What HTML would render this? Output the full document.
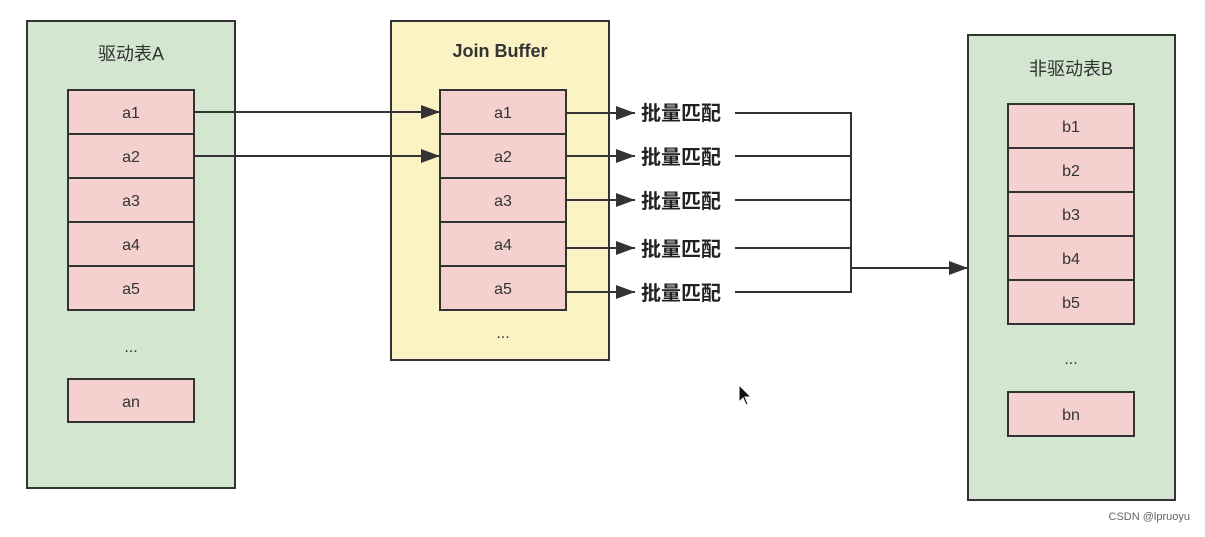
<!DOCTYPE html>
<html><head><meta charset="utf-8"><style>
body{margin:0;background:#fff;width:1205px;height:532px;overflow:hidden;font-family:"Liberation Sans","Noto Sans CJK SC",sans-serif}
</style></head><body>
<svg width="1205" height="532" xmlns="http://www.w3.org/2000/svg" font-family="Liberation Sans, Noto Sans CJK SC, sans-serif">
<defs>
<marker id="a2" markerWidth="20" markerHeight="14" refX="19" refY="7" orient="auto" markerUnits="userSpaceOnUse"><path d="M0,0 L19,7 L0,14 Z" fill="#333"/></marker></defs>
<g stroke="#333" stroke-width="2">
<rect x="27" y="21" width="208" height="467" fill="#d3e6d0"/>
<rect x="391" y="21" width="218" height="339" fill="#fbf3c4"/>
<rect x="968" y="35" width="207" height="465" fill="#d3e6d0"/>
</g>
<g stroke="#333" stroke-width="2" fill="#f4d0cf">
<rect x="68" y="90" width="126" height="44"/><rect x="68" y="134" width="126" height="44"/><rect x="68" y="178" width="126" height="44"/><rect x="68" y="222" width="126" height="44"/><rect x="68" y="266" width="126" height="44"/><rect x="68" y="379" width="126" height="43"/>
<rect x="440" y="90" width="126" height="44"/><rect x="440" y="134" width="126" height="44"/><rect x="440" y="178" width="126" height="44"/><rect x="440" y="222" width="126" height="44"/><rect x="440" y="266" width="126" height="44"/>
<rect x="1008" y="104" width="126" height="44"/><rect x="1008" y="148" width="126" height="44"/><rect x="1008" y="192" width="126" height="44"/><rect x="1008" y="236" width="126" height="44"/><rect x="1008" y="280" width="126" height="44"/><rect x="1008" y="392" width="126" height="44"/>
</g>
<g fill="#333" font-size="16" text-anchor="middle">
<text x="131" y="60" font-size="18">驱动表A</text>
<text x="500" y="57" font-size="18" font-weight="bold">Join Buffer</text>
<text x="1071" y="75" font-size="18">非驱动表B</text>
<text x="131" y="118">a1</text><text x="131" y="162">a2</text><text x="131" y="206">a3</text><text x="131" y="250">a4</text><text x="131" y="294">a5</text><text x="131" y="352">...</text><text x="131" y="407">an</text>
<text x="503" y="118">a1</text><text x="503" y="162">a2</text><text x="503" y="206">a3</text><text x="503" y="250">a4</text><text x="503" y="294">a5</text><text x="503" y="338">...</text>
<text x="1071" y="132">b1</text><text x="1071" y="176">b2</text><text x="1071" y="220">b3</text><text x="1071" y="264">b4</text><text x="1071" y="308">b5</text><text x="1071" y="364">...</text><text x="1071" y="420">bn</text>
</g>
<g fill="#222" font-size="20" font-weight="bold">
<text x="641" y="120">批量匹配</text><text x="641" y="164">批量匹配</text><text x="641" y="208">批量匹配</text><text x="641" y="256">批量匹配</text><text x="641" y="300">批量匹配</text>
</g>
<g stroke="#333" stroke-width="2" fill="none">
<line x1="194" y1="112" x2="440" y2="112" marker-end="url(#a2)"/>
<line x1="194" y1="156" x2="440" y2="156" marker-end="url(#a2)"/>
<line x1="566" y1="113" x2="635" y2="113" marker-end="url(#a2)"/>
<line x1="566" y1="156" x2="635" y2="156" marker-end="url(#a2)"/>
<line x1="566" y1="200" x2="635" y2="200" marker-end="url(#a2)"/>
<line x1="566" y1="248" x2="635" y2="248" marker-end="url(#a2)"/>
<line x1="566" y1="292" x2="635" y2="292" marker-end="url(#a2)"/>
<line x1="735" y1="113" x2="851" y2="113"/><line x1="735" y1="156" x2="851" y2="156"/><line x1="735" y1="200" x2="851" y2="200"/><line x1="735" y1="248" x2="851" y2="248"/><line x1="735" y1="292" x2="851" y2="292"/>
<line x1="851" y1="112" x2="851" y2="293"/>
<line x1="851" y1="268" x2="968" y2="268" marker-end="url(#a2)"/>
</g>
<path d="M739,385 L739,402 L743,398 L746,405 L748,404 L745,397 L751,397 Z" fill="#111" stroke="#fff" stroke-width="1"/>
<text x="1190" y="520" font-size="11" fill="#666" text-anchor="end">CSDN @lpruoyu</text>
</svg>
</body></html>
